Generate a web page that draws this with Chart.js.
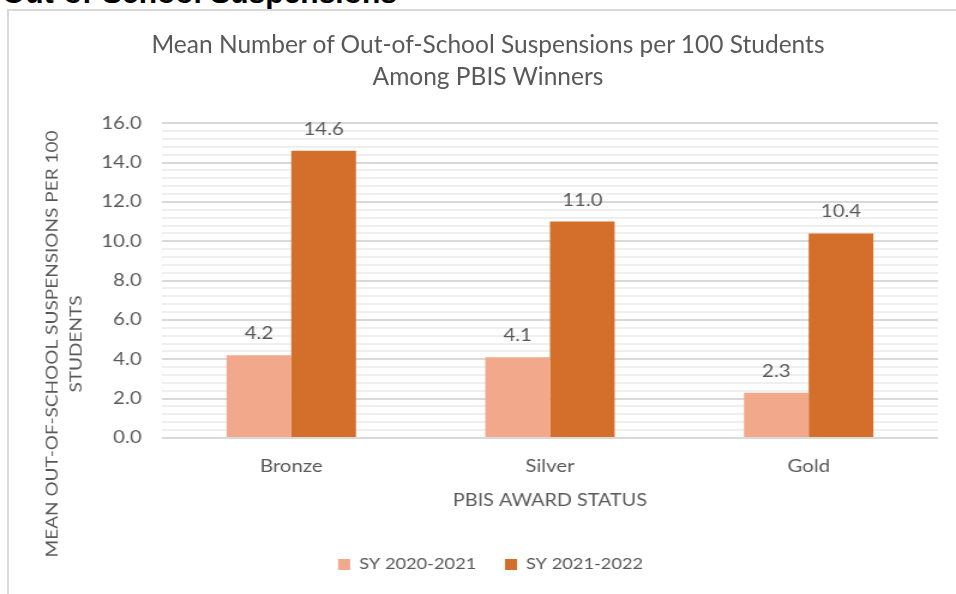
<!DOCTYPE html>
<html lang="en">
<head>
<meta charset="UTF-8">
<title>Out-of-School Suspensions</title>
<script src="https://cdn.jsdelivr.net/npm/chart.js"></script>
<style>
    html, body {
        margin: 0;
        padding: 0;
        background: #fff;
        overflow: hidden;
    }
    #page {
        position: relative;
        width: 956px;
        height: 594px;
        overflow: hidden;
    }
    #heading {
        position: absolute;
        left: 2px;
        top: -22px;
        margin: 0;
        font: bold 30px/30px "Liberation Sans", Arial, sans-serif;
        color: #000;
        white-space: nowrap;
    }
    #frame {
        position: absolute;
        left: 7px;
        top: 9px;
        width: 960px;
        height: 600px;
        border-left: 2px solid #d9d9d9;
        border-top: 2px solid #d9d9d9;
    }
    #title {
        position: absolute;
        left: 0;
        top: 28px;
        width: 976px;
        text-align: center;
        font: 24.5px/32px Lato, sans-serif;
        color: #595959;
        white-space: nowrap;
    }
    /* the original picture is stretched sideways, so the chart is drawn narrower and widened */
    #chart {
        position: absolute;
        left: 0;
        top: 0;
        transform: scaleX(1.1995);
        transform-origin: 0 0;
    }
</style>
</head>
<body>
<div id="page">
    <div id="frame"></div>
    <h2 id="heading">Out-of-School Suspensions</h2>
    <canvas id="chart" width="797" height="594"></canvas>
    <div id="title"></div>
</div>
<script>
const categories = ['Bronze', 'Silver', 'Gold'];
const seriesNames = ['SY 2020-2021', 'SY 2021-2022'];
const sy2020 = [4.2, 4.1, 2.3];
const sy2021 = [14.6, 11.0, 10.4];
const seriesColors = ['#F1A88B', '#D46E2B'];
const titleLines = ['Mean Number of Out-of-School Suspensions per 100 Students', 'Among PBIS Winners'];
const yTitleLines = ['MEAN OUT-OF-SCHOOL SUSPENSIONS PER 100', 'STUDENTS'];
const xTitle = 'PBIS AWARD STATUS';

const STRETCH = 956 / 797;
const grey = '#595959';
const font = { family: 'Lato', size: 17 };

// chart title sits outside the stretched canvas (it is not widened in the original)
const titleEl = document.getElementById('title');
titleLines.forEach(line => {
    const d = document.createElement('div');
    d.textContent = line;
    titleEl.appendChild(d);
});

function isMajor(v) {
    return Math.abs(v / 2 - Math.round(v / 2)) < 1e-6;
}

// value labels above the bars
const barLabels = {
    id: 'barLabels',
    afterDatasetsDraw(chart) {
        const ctx = chart.ctx;
        ctx.save();
        ctx.font = '17px Lato';
        ctx.fillStyle = grey;
        ctx.textAlign = 'center';
        ctx.textBaseline = 'alphabetic';
        chart.data.datasets.forEach((ds, i) => {
            chart.getDatasetMeta(i).data.forEach((bar, j) => {
                ctx.fillText(ds.data[j].toFixed(1), bar.x, bar.y - 16);
            });
        });
        ctx.restore();
    }
};

// two-line rotated y title, drawn in page pixels
const yTitle = {
    id: 'yTitle',
    afterDraw(chart) {
        const ctx = chart.ctx;
        ctx.save();
        ctx.scale(1 / STRETCH, 1);
        ctx.font = '15px Lato';
        ctx.fillStyle = grey;
        ctx.textAlign = 'center';
        ctx.textBaseline = 'alphabetic';
        const k = 427 / ctx.measureText(yTitleLines[0]).width;
        const xs = [57, 82];
        yTitleLines.forEach((line, i) => {
            ctx.save();
            ctx.translate(xs[i], 344);
            ctx.rotate(-Math.PI / 2);
            ctx.scale(k, 1);
            ctx.fillText(line, 0, 0);
            ctx.restore();
        });
        ctx.restore();
    }
};

new Chart(document.getElementById('chart'), {
    type: 'bar',
    data: {
        labels: categories,
        datasets: [
            { label: seriesNames[0], data: sy2020, backgroundColor: seriesColors[0], borderWidth: 0 },
            { label: seriesNames[1], data: sy2021, backgroundColor: seriesColors[1], borderWidth: 0 }
        ]
    },
    options: {
        responsive: false,
        animation: false,
        events: [],
        devicePixelRatio: 1,
        categoryPercentage: 0.5,
        barPercentage: 1.0,
        layout: { padding: { left: 36, right: 15, top: 123.3, bottom: 12 } },
        plugins: {
            title: { display: false },
            legend: {
                position: 'bottom',
                labels: {
                    boxWidth: 10,
                    boxHeight: 11,
                    padding: 24,
                    color: grey,
                    font: { family: 'Lato', size: 15.2 }
                }
            },
            tooltip: { enabled: false }
        },
        scales: {
            x: {
                grid: { display: false, drawTicks: false },
                border: { display: false },
                ticks: { color: grey, font: font, padding: 18 },
                title: {
                    display: true,
                    text: xTitle,
                    color: grey,
                    font: { family: 'Lato', size: 16.5 },
                    padding: { top: -4, bottom: 22.7 }
                }
            },
            y: {
                min: 0,
                max: 16,
                afterFit(scale) { scale.width = 99; },
                border: { display: false },
                grid: {
                    drawTicks: false,
                    color: c => isMajor(c.tick.value) ? '#d9d9d9' : '#efefef',
                    lineWidth: 2
                },
                ticks: {
                    stepSize: 0.4,
                    autoSkip: false,
                    padding: 17,
                    color: grey,
                    font: font,
                    callback: v => isMajor(v) ? v.toFixed(1) : ''
                }
            }
        }
    },
    plugins: [barLabels, yTitle]
});
</script>
</body>
</html>
